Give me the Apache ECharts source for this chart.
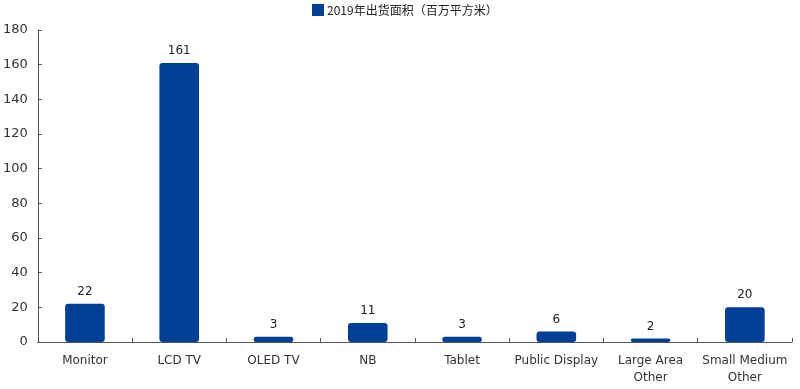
<!DOCTYPE html>
<html><head><meta charset="utf-8">
<script src="https://cdn.jsdelivr.net/npm/echarts@6/dist/echarts.min.js"></script>
<style>html,body{margin:0;padding:0;background:#fff}#c{width:800px;height:389px}</style>
</head><body><div id="c"></div>
<script>
const categories = ['Monitor','LCD TV','OLED TV','NB','Tablet','Public Display','Large Area\nOther','Small Medium\nOther'];
const seriesName = '2019年出货面积（百万平方米）';
const values = [22, 161, 3, 11, 3, 6, 2, 20];
const yTicks = {min: 0, max: 180, interval: 20};

const chart = echarts.init(document.getElementById('c'));
chart.setOption({
  animation: false,
  textStyle: {fontFamily: 'DejaVu Sans'},
  legend: {
    top: 4, left: 312, padding: 0,
    itemWidth: 10, itemHeight: 10, itemGap: 2,
    icon: 'rect',
    textStyle: {fontFamily: 'Noto Sans CJK SC', fontSize: 12, color: '#222', padding: [0,0,0,-1]},
    data: [seriesName]
  },
  grid: {left: 37, right: 8, top: 30, bottom: 47, containLabel: false},
  xAxis: {
    type: 'category', data: categories,
    axisLine: {lineStyle: {color: '#555', width: 1}},
    axisTick: {show: true, inside: true, length: 4, lineStyle: {color: '#555'}},
    axisLabel: {color: '#333', fontSize: 12, margin: 10, interval: 0, lineHeight: 17}
  },
  yAxis: {
    type: 'value', min: yTicks.min, max: yTicks.max, interval: yTicks.interval,
    axisLine: {show: true, lineStyle: {color: '#555'}},
    axisTick: {show: true, inside: true, length: 4, lineStyle: {color: '#555'}},
    splitLine: {show: false},
    axisLabel: {color: '#333', fontSize: 13, margin: 10}
  },
  series: [{
    name: seriesName, type: 'bar', data: values,
    barWidth: '42%',
    itemStyle: {color: '#003f96', borderColor: '#003f96', borderWidth: 2, borderRadius: 2},
    label: {show: true, position: 'top', distance: 6, color: '#222', fontSize: 12}
  }]
});
</script></body></html>
